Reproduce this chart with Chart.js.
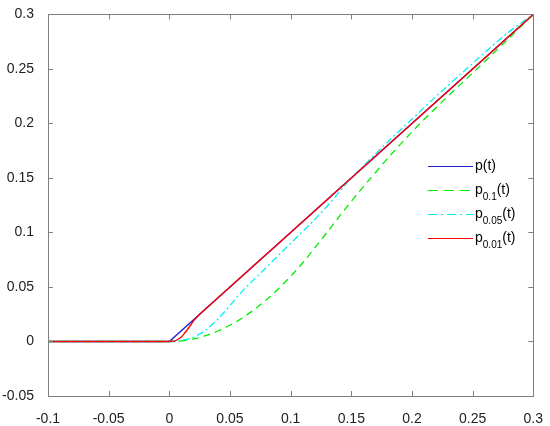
<!DOCTYPE html>
<html>
<head>
<meta charset="utf-8">
<script src="https://cdn.jsdelivr.net/npm/chart.js@4.4.1/dist/chart.umd.min.js"></script>
<style>
  body { margin: 0; background: #fff; }
  #wrap { width: 550px; height: 426px; }
</style>
</head>
<body>
<div id="wrap"><canvas id="lineChart"></canvas></div>
<script>
// tick labels
const xTicks = [-0.1, -0.05, 0, 0.05, 0.1, 0.15, 0.2, 0.25, 0.3];
const yTicks = [-0.05, 0, 0.05, 0.1, 0.15, 0.2, 0.25, 0.3];

// p(t)
const tP = [-0.1, 0, 0.3];
const p = [0, 0, 0.3];

// p_0.1(t)
const tP01 = [-0.1, 0, 0.01, 0.02, 0.03, 0.04, 0.05, 0.06, 0.07, 0.08, 0.09, 0.10, 0.11, 0.12, 0.13, 0.14, 0.15,
              0.16, 0.17, 0.18, 0.19, 0.20, 0.21, 0.22, 0.23, 0.24, 0.25, 0.26, 0.27, 0.28, 0.29, 0.30];
const p01 = [0, 0, 0.0006, 0.0024, 0.0054, 0.0096, 0.0149, 0.0215, 0.0293, 0.0382, 0.0484, 0.0597, 0.0722, 0.086,
             0.100, 0.1145, 0.1285, 0.142, 0.155, 0.168, 0.1803, 0.1922, 0.2036, 0.2146, 0.2253, 0.2358, 0.2463,
             0.2568, 0.2674, 0.2781, 0.289, 0.300];

// p_0.05(t)
const tP005 = [-0.1, 0, 0.01, 0.02, 0.03, 0.04, 0.05, 0.06, 0.07, 0.08, 0.09, 0.10, 0.11, 0.12, 0.13, 0.14, 0.15,
               0.16, 0.18, 0.20, 0.22, 0.24, 0.26, 0.28, 0.30];
const p005 = [0, 0, 0.001, 0.004, 0.0105, 0.0205, 0.033, 0.046, 0.057, 0.068, 0.079, 0.090, 0.101, 0.112, 0.124,
              0.137, 0.150, 0.161, 0.183, 0.204, 0.225, 0.245, 0.265, 0.284, 0.300];

// p_0.01(t)
const tP001 = [-0.1, 0, 0.005, 0.01, 0.015, 0.02, 0.025, 0.3];
const p001 = [0, 0, 0.0005, 0.004, 0.011, 0.019, 0.025, 0.3];

const legendItems = [
    { main: 'p', sub: '', color: '#2020d0', dash: [] },
    { main: 'p', sub: '0.1', color: '#00ee00', dash: [10, 6] },
    { main: 'p', sub: '0.05', color: '#00f0f0', dash: [9, 4, 2, 4] },
    { main: 'p', sub: '0.01', color: '#ff0000', dash: [] }
];

function pts(xs, ys) {
    return xs.map((x, i) => ({ x: x, y: ys[i] }));
}

function fmt(v) {
    return String(Math.round(v * 1000) / 1000);
}

const boxPlugin = {
    id: 'boxPlugin',
    beforeDraw(chart) {
        const c = chart.ctx;
        c.save();
        c.fillStyle = '#fff';
        c.fillRect(0, 0, chart.width, chart.height);
        c.restore();
    },
    afterDraw(chart) {
        const c = chart.ctx;
        const a = chart.chartArea;
        const xs = chart.scales.x, ys = chart.scales.y;
        c.save();
        c.strokeStyle = '#808080';
        c.lineWidth = 1;
        c.setLineDash([]);
        c.beginPath();
        xTicks.forEach(v => {
            const px = Math.round(xs.getPixelForValue(v)) + 0.5;
            c.moveTo(px, a.bottom); c.lineTo(px, a.bottom - 5);
            c.moveTo(px, a.top); c.lineTo(px, a.top + 5);
        });
        yTicks.forEach(v => {
            const py = Math.round(ys.getPixelForValue(v)) + 0.5;
            c.moveTo(a.left, py); c.lineTo(a.left + 5, py);
            c.moveTo(a.right, py); c.lineTo(a.right - 5, py);
        });
        c.stroke();
        c.strokeRect(Math.round(a.left) + 0.5, Math.round(a.top) + 0.5,
                     Math.round(a.right - a.left), Math.round(a.bottom - a.top));

        // legend with subscripts
        let y = 166;
        legendItems.forEach(item => {
            c.strokeStyle = item.color;
            c.lineWidth = 1.2;
            c.setLineDash(item.dash);
            c.beginPath();
            c.moveTo(428, y + 0.5); c.lineTo(473, y + 0.5);
            c.stroke();
            c.setLineDash([]);
            c.fillStyle = '#000';
            c.textBaseline = 'middle';
            c.font = '14px "Liberation Sans", Arial, sans-serif';
            let x = 475;
            c.fillText(item.main, x, y);
            x += c.measureText(item.main).width;
            if (item.sub) {
                c.font = '10px "Liberation Sans", Arial, sans-serif';
                c.fillText(item.sub, x, y + 7);
                x += c.measureText(item.sub).width;
                c.font = '14px "Liberation Sans", Arial, sans-serif';
            }
            c.fillText('(t)', x, y);
            y += 24;
        });
        c.restore();
    }
};

document.addEventListener('DOMContentLoaded', function() {
    const ctx = document.getElementById('lineChart').getContext('2d');
    const tickFont = { family: '"Liberation Sans", Arial, sans-serif', size: 14 };

    new Chart(ctx, {
        type: 'scatter',
        data: {
            datasets: [
                { data: pts(tP, p), borderColor: '#2020d0', borderWidth: 1.3, order: 3 },
                { data: pts(tP01, p01), borderColor: '#00ee00', borderWidth: 1.3, borderDash: [7, 5],
                  cubicInterpolationMode: 'monotone', order: 2 },
                { data: pts(tP005, p005), borderColor: '#00f0f0', borderWidth: 1.3, borderDash: [7, 3, 2, 3],
                  cubicInterpolationMode: 'monotone', order: 1 },
                { data: pts(tP001, p001), borderColor: '#ff0000', borderWidth: 1.3, order: 0 }
            ].map(d => Object.assign(d, { showLine: true, pointRadius: 0, fill: false }))
        },
        options: {
            responsive: true,
            maintainAspectRatio: false,
            animation: false,
            layout: { padding: { top: 11, right: 16, left: 0, bottom: 0 } },
            plugins: {
                legend: { display: false },
                tooltip: { enabled: false }
            },
            scales: {
                x: {
                    type: 'linear',
                    min: -0.1,
                    max: 0.3,
                    grid: { display: false },
                    border: { display: false },
                    afterBuildTicks: s => { s.ticks = xTicks.map(v => ({ value: v })); },
                    afterFit: s => { s.height = 30; },
                    ticks: { color: '#222', font: tickFont, padding: 7, maxRotation: 0,
                             autoSkip: false, callback: v => fmt(v) }
                },
                y: {
                    min: -0.05,
                    max: 0.3,
                    grid: { display: false },
                    border: { display: false },
                    afterBuildTicks: s => { s.ticks = yTicks.map(v => ({ value: v })); },
                    afterFit: s => { s.width = 48; },
                    ticks: { color: '#222', font: tickFont, padding: 6,
                             autoSkip: false, callback: v => fmt(v) }
                }
            }
        },
        plugins: [boxPlugin]
    });
});
</script>
</body>
</html>
